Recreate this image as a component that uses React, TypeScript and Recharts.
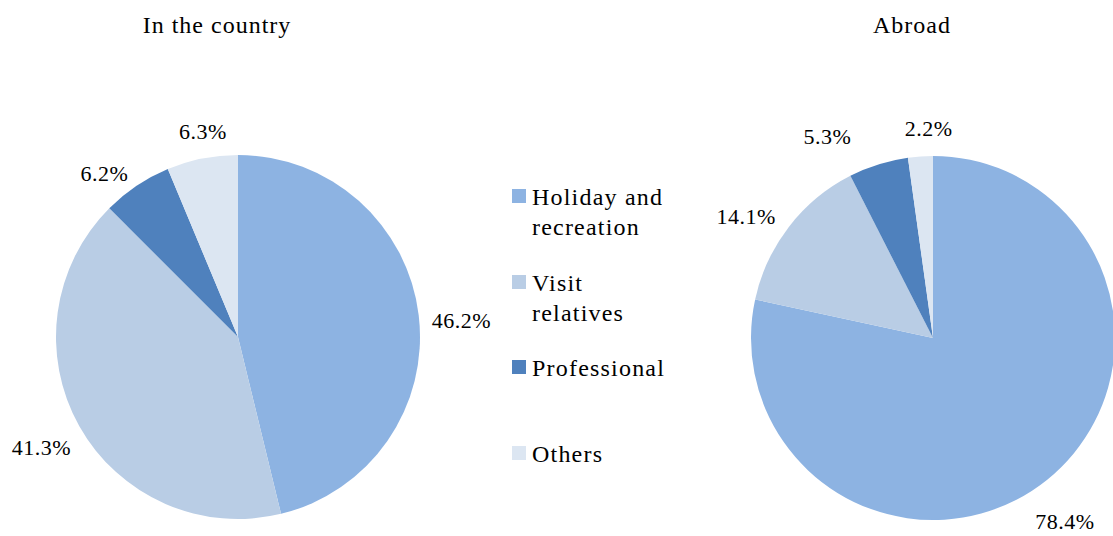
import React from "react";
import { PieChart, Pie, Cell } from "recharts";

const categories = ["Holiday and recreation", "Visit relatives", "Professional", "Others"];
const legendLines = [["Holiday and", "recreation"], ["Visit", "relatives"], ["Professional"], ["Others"]];
const countryValues = [46.2, 41.3, 6.2, 6.3];
const abroadValues = [78.4, 14.1, 5.3, 2.2];
const titles = ["In the country", "Abroad"];

const colors = ["#8DB3E2", "#B9CDE5", "#4F81BD", "#DCE6F2"];
const FONT = '"Liberation Serif", "Times New Roman", serif';
const RAD = Math.PI / 180;

// small label nudges (px) to mimic the spreadsheet's label placement
const countryNudge = [[0, 10], [0, 0], [-13, 16], [6, 0]];
const abroadNudge = [[-7, 11], [-9, 16], [-42, 0], [10, -3]];

const countryData = categories.map((name, i) => ({ name, value: countryValues[i] }));
const abroadData = categories.map((name, i) => ({ name, value: abroadValues[i] }));

const makeLabel = (nudge: number[][]) => (props: any) => {
  const { cx, cy, midAngle, outerRadius, value, index } = props;
  const cos = Math.cos(-midAngle * RAD);
  const sin = Math.sin(-midAngle * RAD);
  const halfW = value >= 10 ? 30 : 24;
  const halfH = 11;
  const dist = outerRadius + 12 + halfW * Math.abs(cos) + halfH * Math.abs(sin);
  const [nx, ny] = nudge[index] || [0, 0];
  const x = cx + dist * cos + nx;
  const y = cy + dist * sin + ny;
  return (
    <text
      x={x}
      y={y}
      textAnchor="middle"
      dominantBaseline="central"
      fill="#000"
      fontFamily={FONT}
      fontSize={22}
      letterSpacing={0.5}
    >
      {value.toFixed(1)}%
    </text>
  );
};

const titleStyle: React.CSSProperties = {
  position: "absolute",
  top: 10,
  width: 240,
  textAlign: "center",
  fontSize: 24,
  lineHeight: "30px",
  letterSpacing: 1,
};

const App: React.FC = () => {
  return (
    <div style={{ position: "absolute", left: 0, top: 0, width: 1113, height: 536, background: "#fff", fontFamily: FONT, color: "#000" }}>
      <div style={{ ...titleStyle, left: 97 }}>{titles[0]}</div>
      <div style={{ ...titleStyle, left: 792 }}>{titles[1]}</div>
      <PieChart width={1113} height={536} margin={{ top: 0, right: 0, bottom: 0, left: 0 }}>
        <Pie
          data={countryData}
          dataKey="value"
          nameKey="name"
          cx={238}
          cy={337}
          outerRadius={182}
          startAngle={90}
          endAngle={-270}
          stroke="none"
          label={makeLabel(countryNudge)}
          labelLine={false}
          isAnimationActive={false}
        >
          {countryData.map((d, i) => (
            <Cell key={d.name} fill={colors[i]} />
          ))}
        </Pie>
        <Pie
          data={abroadData}
          dataKey="value"
          nameKey="name"
          cx={933}
          cy={338}
          outerRadius={182}
          startAngle={90}
          endAngle={-270}
          stroke="none"
          label={makeLabel(abroadNudge)}
          labelLine={false}
          isAnimationActive={false}
        >
          {abroadData.map((d, i) => (
            <Cell key={d.name} fill={colors[i]} />
          ))}
        </Pie>
      </PieChart>
      {legendLines.map((lines, i) => (
        <div key={categories[i]} style={{ position: "absolute", left: 512, top: 182 + Math.round(i * 85.7), display: "flex", alignItems: "flex-start" }}>
          <div style={{ width: 14, height: 14, background: colors[i], marginTop: 7, marginRight: 6 }} />
          <div style={{ fontSize: 24, lineHeight: "30px", letterSpacing: 1.2 }}>
            {lines.map((l) => (
              <div key={l}>{l}</div>
            ))}
          </div>
        </div>
      ))}
    </div>
  );
};

export default App;
